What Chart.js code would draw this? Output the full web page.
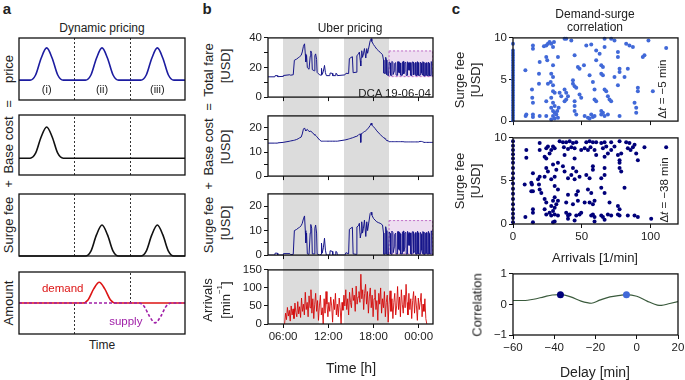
<!DOCTYPE html>
<html>
<head>
<meta charset="utf-8">
<script src="https://cdn.jsdelivr.net/npm/chart.js@4.4.0/dist/chart.umd.min.js"></script>
<style>
  body { margin: 0; width: 685px; height: 380px; position: relative; overflow: hidden; background: #fff;
         font-family: "Liberation Sans", Arial, Helvetica, sans-serif; color: #222; }
  .plot { position: absolute; z-index: 1; }
  .band { position: absolute; z-index: 0; background: #dcdcdc; }
  .lab { position: absolute; z-index: 2; white-space: nowrap; line-height: 1; transform: translate(-50%, -50%); }
  .rot { writing-mode: vertical-rl; transform: translate(-50%, -50%) rotate(180deg); }
  .letter { font-weight: bold; font-size: 15px; }
</style>
</head>
<body>
<script>
// ---------- panel a: schematic ----------
const bumpOffsets = [-0.3, -0.2, -0.1, 0, 0.1, 0.2, 0.3];
const bumpShape = [0, 0.16, 0.68, 1, 0.68, 0.16, 0];
const priceCenters = [0.5, 1.5, 2.5];
const baseCostCenters = [0.5];
const surgeCenters = [1.5, 2.5];
const demandCenters = [1.45];
const supplyCenters = [2.46];

// ---------- panel b: Uber pricing (DCA 19-06-04) ----------
const fareHours = [4.00, 4.90, 4.95, 5.25, 5.30, 6.00, 6.05, 6.90, 7.00, 7.35, 7.50, 7.80, 8.00, 8.20, 8.40, 8.55, 8.70, 8.85, 8.95, 9.02,
  9.12, 9.22, 9.45, 9.60, 9.68, 9.80, 9.88, 10.15, 10.22, 10.32, 10.45, 10.52, 10.85, 11.05, 11.10, 11.20, 11.35, 11.50, 11.62, 11.75,
  12.20, 12.25, 12.55, 12.60, 12.95, 13.00, 13.15, 13.20, 14.20, 14.35, 14.70, 14.80, 15.00, 15.20, 15.30, 15.70, 15.80, 16.00, 16.13, 16.25,
  16.31, 16.36, 16.44, 16.55, 16.67, 16.80, 16.98, 17.11, 17.22, 17.33, 17.56, 17.70, 17.78, 18.00, 18.20, 18.44, 18.70, 18.89, 19.20, 19.33,
  19.38, 19.55, 19.62, 19.72, 19.78, 20.00, 20.08, 20.22, 20.27, 20.40, 20.44, 20.58, 20.62, 20.78, 20.82, 20.95, 21.00, 21.15, 21.20, 21.30,
  21.35, 21.42, 21.46, 21.58, 21.62, 21.80, 21.84, 21.98, 22.02, 22.12, 22.16, 22.30, 22.35, 22.48, 22.52, 22.65, 22.70, 22.74, 22.78, 22.92,
  22.96, 23.10, 23.14, 23.28, 23.32, 23.45, 23.49, 23.60, 23.64, 23.80, 23.84, 23.96, 24.00, 24.18, 24.22, 24.36, 24.40, 24.50, 24.54, 24.66,
  24.70, 24.88, 24.92, 25.05, 25.09, 25.25, 25.29, 25.40, 25.44, 25.62, 25.66, 25.74, 25.78, 25.90];
const totalFare = [13.7, 13.7, 14.5, 14.5, 13.8, 14.0, 14.6, 15.1, 14.8, 15.1, 24.9, 25.7, 26.5, 27.3, 28.2, 30.5, 34.3, 36.0, 29.2, 23.8,
  28.2, 19.9, 18.8, 27.6, 31.2, 29.4, 18.5, 17.8, 28.0, 29.2, 25.5, 16.7, 15.0, 14.8, 19.4, 15.3, 17.5, 21.4, 16.5, 14.5,
  14.5, 16.3, 16.0, 14.5, 14.5, 16.0, 15.7, 14.5, 15.0, 16.1, 15.9, 26.0, 26.7, 27.3, 16.5, 16.8, 28.1, 29.0, 30.4, 24.5,
  21.0, 26.6, 31.3, 26.9, 29.2, 32.8, 26.4, 32.8, 29.6, 32.3, 38.0, 39.5, 37.6, 35.5, 34.1, 32.4, 31.1, 30.3, 28.6, 25.0,
  16.2, 16.0, 26.9, 25.0, 15.1, 14.5, 23.8, 23.1, 14.8, 14.6, 24.1, 23.5, 15.3, 17.8, 22.8, 23.3, 14.9, 14.7, 23.9, 23.9,
  16.8, 16.3, 23.6, 23.0, 14.8, 14.8, 23.7, 24.1, 15.7, 17.2, 23.2, 23.5, 14.6, 14.7, 23.9, 23.0, 18.2, 18.2, 23.4, 23.2,
  14.7, 14.6, 23.7, 23.7, 15.0, 15.7, 22.8, 23.4, 14.6, 14.7, 24.0, 23.2, 14.7, 14.8, 23.7, 22.9, 16.4, 14.9, 23.9, 23.5,
  14.3, 14.5, 23.0, 23.2, 14.6, 14.4, 23.7, 22.8, 14.5, 14.5, 23.9, 23.5, 14.3, 14.3];
const baseCost = [13.7, 13.7, 13.7, 13.7, 13.8, 14.0, 14.0, 14.5, 14.6, 14.8, 14.9, 15.2, 15.5, 15.9, 16.2, 17.5, 19.5, 20.0, 19.2, 18.8,
  19.2, 19.4, 18.5, 18.6, 18.7, 18.4, 18.0, 17.3, 17.0, 16.9, 16.5, 16.2, 15.0, 14.5, 14.5, 14.5, 14.5, 14.5, 14.5, 14.5,
  14.5, 14.5, 14.5, 14.5, 14.5, 14.5, 14.5, 14.5, 15.0, 15.1, 15.4, 15.5, 15.7, 15.9, 16.0, 16.5, 16.6, 17.0, 17.4, 17.5,
  14.0, 17.6, 17.7, 17.9, 18.2, 18.5, 18.8, 19.2, 19.6, 20.0, 21.0, 22.0, 21.2, 20.5, 19.8, 18.8, 17.9, 17.3, 16.3, 16.0,
  15.9, 15.5, 15.3, 15.0, 14.8, 14.5, 14.3, 14.3, 14.3, 14.3, 14.3, 14.3, 14.3, 14.3, 14.3, 14.3, 14.3, 14.3, 14.3, 14.3,
  14.3, 14.3, 14.3, 14.3, 14.3, 14.3, 14.3, 14.3, 14.2, 14.2, 14.2, 14.2, 14.2, 14.2, 14.2, 14.2, 14.2, 14.2, 14.2, 14.2,
  14.2, 14.2, 14.2, 14.2, 14.2, 14.2, 14.2, 14.2, 14.2, 14.2, 14.2, 14.2, 14.2, 14.4, 14.4, 14.4, 14.4, 14.3, 14.3, 14.1,
  14.0, 14.0, 14.0, 14.0, 14.0, 14.0, 14.0, 14.0, 14.0, 14.0, 14.0, 14.0, 14.0, 14.0];
const surgeFee = [0, 0, 0.8, 0.8, 0, 0, 0.6, 0.6, 0.2, 0.3, 10.0, 10.5, 11.0, 11.4, 12.0, 13.0, 14.8, 16.0, 10.0, 5.0,
  9.0, 0.5, 0.3, 9.0, 12.5, 11.0, 0.5, 0.5, 11.0, 12.3, 9.0, 0.5, 0, 0.3, 4.9, 0.8, 3.0, 6.9, 2.0, 0,
  0, 1.8, 1.5, 0, 0, 1.5, 1.2, 0, 0, 1.0, 0.5, 10.5, 11.0, 11.4, 0.5, 0.3, 11.5, 12.0, 13.0, 7.0,
  7.0, 9.0, 13.6, 9.0, 11.0, 14.3, 7.6, 13.6, 10.0, 12.3, 17.0, 17.5, 16.4, 15.0, 14.3, 13.6, 13.2, 13.0, 12.3, 9.0,
  0.3, 0.5, 11.6, 10.0, 0.3, 0, 9.5, 8.8, 0.5, 0.3, 9.8, 9.2, 1.0, 3.5, 8.5, 9.0, 0.6, 0.4, 9.6, 9.6,
  2.5, 2.0, 9.3, 8.7, 0.5, 0.5, 9.4, 9.8, 1.5, 3.0, 9.0, 9.3, 0.4, 0.5, 9.7, 8.8, 4.0, 4.0, 9.2, 9.0,
  0.5, 0.4, 9.5, 9.5, 0.8, 1.5, 8.6, 9.2, 0.4, 0.5, 9.8, 9.0, 0.5, 0.4, 9.3, 8.5, 2.0, 0.6, 9.6, 9.4,
  0.3, 0.5, 9.0, 9.2, 0.6, 0.4, 9.7, 8.8, 0.5, 0.5, 9.9, 9.5, 0.3, 0.3];
// arrivals per minute, sampled every 7.5 min from 06:12
const arrivalStart = 6.2;
const arrivalStep = 0.125;
const arrivals = [
  0, 30, 12, 46, 22, 38, 8, 50,   25, 42, 15, 58, 32, 20, 62, 28,
  48, 18, 72, 35, 55, 25, 88, 40,  60, 20, 78, 45, 95, 30, 70, 15,
  55, 85, 35, 65, 10, 50, 80, 25,  45, 0, 70, 30, 90, 55, 20, 60,
  35, 75, 50, 5, 68, 40, 85, 25,   55, 20, 72, 45, 0, 60, 38, 80,
  50, 95, 40, 70, 25, 88, 60, 45,  100, 65, 80, 35, 105, 55, 75, 90,
  60, 138, 70, 95, 40, 85, 110, 55, 90, 30, 75, 100, 45, 80, 20, 70,
  95, 40, 65, 10, 85, 55, 100, 30, 70, 45, 90, 20, 60, 80, 5, 55,
  92, 35, 70, 15, 60, 85, 25, 50,  104, 40, 75, 20, 95, 55, 30, 80,
  45, 110, 60, 25, 85, 40, 70, 15, 65, 90, 30, 78, 50, 10, 72, 40,
  60, 85, 20, 55, 35, 70, 15, 0];
const peakHours = [[6.0, 10.8], [14.1, 20.1]];
const timeTicks = [6, 12, 18, 24];
const timeLabels = ['06:00', '12:00', '18:00', '00:00'];
const totalTicks = [0, 10, 20, 30, 40], totalLabels = [0, 20, 40];
const feeTicks = [0, 5, 10, 15, 20], feeLabels = [0, 10, 20];
const arrivalTicks = [0, 50, 100, 150];

// ---------- panel c: demand-surge correlation ----------
const lag5Arrivals = [0, 0, 0, 0, 0, 0, 0, 0, 0, 0, 0, 0, 0, 0, 0, 0, 0, 0, 0, 0, 0, 0, 0, 0, 0, 0, 0, 0, 0, 0,
  9.0, 9.7, 9.2, 14.5, 14.5, 13.8, 14.0, 14.5, 14.5, 14.5, 19.4, 18.9, 18.9, 19.4, 24.2, 24.2, 22.5, 24.2, 25.4, 26.6,
  27.8, 29.1, 29.8, 24.2, 24.9, 29.1, 27.8, 29.1, 27.4, 29.1, 25.4, 29.1, 30.3, 27.8, 29.1, 30.3, 27.8, 29.1, 30.3, 31.5,
  29.1, 30.3, 27.8, 32.7, 32.2, 33.2, 33.9, 35.1, 37.5, 38.7, 40.0, 38.7, 37.5, 32.7, 38.7, 42.4, 44.8, 47.2, 48.4, 43.6,
  43.6, 44.8, 46.0, 48.4, 49.6, 44.8, 44.8, 44.8, 46.0, 52.1, 54.5, 55.7, 58.1, 59.3, 56.9, 53.3, 56.9, 51.6, 55.7, 58.1,
  59.3, 60.5, 60.5, 63.0, 64.2, 65.4, 64.2, 65.4, 66.6, 59.3, 60.5, 64.2, 65.4, 66.6, 67.8, 69.0, 70.2, 71.4, 64.2, 66.6,
  69.0, 71.4, 73.8, 76.3, 76.3, 77.5, 77.5, 73.8, 76.3, 77.5, 82.3, 84.7, 87.2, 83.5, 81.1, 88.4, 89.6, 89.6, 90.8, 90.8,
  95.6, 94.4, 101.7, 111.4, 37.5, 66.6, 98.5];
const lag5Surge = [0.1, 0.4, 0.7, 1.0, 1.3, 1.6, 1.9, 2.2, 2.5, 2.8, 3.1, 3.4, 3.7, 4.0, 4.3, 4.6, 4.9, 5.2, 5.5, 5.8,
  6.1, 6.4, 6.7, 7.0, 7.3, 7.6, 7.9, 8.2, 8.5, 9.3,
  6.1, 0.8, 0.6, 9.1, 8.7, 3.8, 2.8, 2.2, 0.8, 0.5, 7.1, 5.7, 4.5, 0.6, 2.4, 0.6, 9.0, 9.1, 9.3, 9.5,
  9.3, 8.9, 9.5, 7.7, 7.3, 6.7, 5.7, 5.3, 4.7, 4.3, 4.5, 3.6, 3.4, 2.8, 2.2, 1.8, 1.6, 1.2, 1.0, 0.8,
  0.6, 0.3, 0.2, 0.4, 1.2, 1.6, 3.4, 3.0, 3.8, 3.4, 3.0, 2.6, 2.4, 7.7, 9.9, 9.7, 7.9, 6.5, 6.3, 4.9,
  4.5, 4.2, 4.0, 3.2, 2.8, 2.4, 1.8, 1.2, 0.8, 0.6, 0.4, 0.3, 0.5, 0.6, 0.8, 9.1, 9.2, 6.7, 5.5, 4.7,
  3.8, 7.3, 8.5, 8.1, 6.7, 6.5, 5.7, 5.5, 8.9, 2.6, 2.4, 1.2, 1.0, 3.8, 3.6, 3.0, 2.6, 2.4, 0.8, 0.6,
  0.8, 9.9, 9.7, 8.3, 7.7, 6.3, 5.9, 5.3, 4.3, 0.6, 9.3, 9.1, 8.9, 6.3, 5.3, 2.2, 1.6, 1.0, 4.0, 3.6,
  7.9, 7.7, 3.6, 8.8, 9.9, 9.9, 9.7];
const lag38Arrivals = [0, 0, 0, 0, 0, 0, 0, 0, 0, 0, 0, 0, 0, 0, 0, 0, 0, 0,
  33.9, 36.3, 38.7, 41.2, 43.6, 46.0, 53.3, 55.7, 58.1, 60.5, 64.2, 66.6, 71.4, 77.5, 82.3, 84.7, 88.4, 95.6, 111.4, 19.4,
  19.4, 24.2, 25.4, 27.8, 29.1, 30.3, 26.6, 37.0, 40.0, 42.4, 44.8, 49.6, 52.1, 54.5, 56.4, 59.3, 65.4, 67.8, 71.4, 73.8,
  83.5, 85.5, 87.2, 89.6, 9.7, 9.7, 23.0, 24.2, 37.5, 44.8, 60.5, 66.6, 76.3, 77.5, 90.8, 69.0, 78.7, 24.2, 25.4, 29.1,
  31.5, 32.7, 36.3, 37.5, 43.6, 46.0, 58.1, 58.1, 66.6, 77.5, 77.5, 78.7, 14.5, 19.4, 23.0, 27.8, 30.3, 40.0, 42.4, 44.8,
  48.4, 53.3, 55.7, 64.2, 66.6, 8.5, 13.3, 13.8, 18.2, 18.9, 13.3, 14.5, 19.4, 20.6, 30.3, 32.7, 40.0, 46.0, 47.2, 56.9,
  64.2, 66.6, 81.1, 54.5, 23.0, 24.2, 27.8, 29.1, 30.3, 31.5, 32.7, 38.7, 43.6, 47.2, 52.1, 55.7, 58.1, 59.3, 70.2, 76.3,
  77.5, 30.3, 14.5, 14.5, 23.0, 24.2, 26.6, 27.8, 29.1, 30.3, 32.7, 38.7, 40.0, 41.2, 46.0, 48.4, 49.6, 56.9, 58.1, 59.3,
  64.2, 65.4, 69.0, 71.4, 76.3, 77.5, 83.5, 88.4, 90.8, 100.5, 9.0, 14.5, 29.1, 30.3, 40.0, 44.8, 59.3, 66.6];
const lag38Surge = [0.2, 0.7, 1.2, 1.7, 2.3, 2.9, 3.5, 4.1, 4.7, 5.3, 5.9, 6.5, 7.1, 7.6, 8.1, 8.6, 9.1, 9.6,
  9.6, 9.5, 9.5, 9.6, 9.4, 9.5, 9.5, 9.6, 9.5, 9.5, 9.4, 9.5, 9.5, 9.6, 9.5, 9.4, 9.2, 8.9, 8.9, 9.4,
  8.6, 8.8, 9.0, 8.6, 9.0, 8.8, 8.2, 8.9, 8.7, 8.9, 8.8, 8.6, 8.8, 8.6, 8.9, 8.6, 8.8, 9.0, 8.6, 9.0,
  8.8, 8.6, 8.9, 8.2, 8.6, 7.7, 7.8, 7.6, 8.0, 7.6, 8.0, 7.8, 8.0, 7.4, 7.4, 8.2, 8.2, 6.5, 6.1, 6.9,
  6.3, 7.1, 6.7, 6.1, 6.5, 6.1, 6.7, 6.3, 6.5, 7.1, 6.5, 6.1, 5.9, 5.5, 5.5, 5.2, 5.5, 5.3, 5.7, 5.2,
  5.5, 5.7, 5.3, 5.3, 5.7, 4.6, 4.8, 4.6, 5.2, 4.6, 3.8, 3.8, 4.0, 3.6, 4.4, 4.0, 3.4, 3.4, 3.8, 3.6,
  4.2, 3.6, 4.2, 4.0, 2.9, 2.5, 2.1, 2.7, 3.1, 2.3, 2.7, 2.5, 2.3, 2.7, 2.5, 2.5, 2.3, 2.7, 2.5, 2.1,
  1.7, 1.9, 1.7, 1.3, 1.7, 1.1, 1.3, 1.0, 1.5, 1.1, 1.0, 1.3, 1.0, 1.1, 1.0, 1.1, 1.3, 1.0, 1.1, 0.8,
  1.0, 0.8, 1.1, 1.0, 1.1, 1.0, 1.0, 1.0, 0.8, 0.6, 0.8, 0.2, 0.2, 0.3, 0.6, 0.4, 0.3, 0.5];
const delays = [-60, -55, -50, -45, -41, -37, -32, -27, -22, -18, -13, -8, -5, 0, 5, 10, 12, 16, 20];
const correlation = [0.13, 0.13, 0.17, 0.25, 0.31, 0.32, 0.25, 0.11, 0.04, 0.14, 0.25, 0.30, 0.32, 0.27, 0.11, -0.02, -0.03, 0.03, 0.09];
const markedDelays = [-37, -5];
const markedCorr = [0.32, 0.32];
const scatterArrivalTicks = [0, 50, 100];
const scatterFeeTicks = [0, 5, 10];
const delayTicks = [-60, -40, -20, 0, 20];
const corrTicks = [-1, 0, 1];

const FONT = '"Liberation Sans", Arial, Helvetica, sans-serif';
const NAVY = '#15158a';
const LIGHTBLUE = '#4169d8';
const DARKBLUE = '#00007a';
Chart.defaults.font.family = FONT;
Chart.defaults.color = '#222';

// box outline round the plot area
const frame = {
    id: 'frame',
    afterDraw(chart) {
        const a = chart.chartArea, c = chart.ctx;
        c.save();
        c.strokeStyle = '#111';
        c.lineWidth = 1.3;
        c.strokeRect(a.left, a.top, a.right - a.left, a.bottom - a.top);
        c.restore();
    }
};

// dotted separators of the three regimes (x, yFrom, yTo)
function dividers(lines) {
    return {
        id: 'dividers',
        beforeDatasetsDraw(chart) {
            const x = chart.scales.x, y = chart.scales.y, c = chart.ctx;
            c.save();
            c.setLineDash([2, 2]);
            c.strokeStyle = '#333';
            c.lineWidth = 1;
            lines.forEach(l => {
                const px = Math.round(x.getPixelForValue(l[0])) + 0.5;
                c.beginPath();
                c.moveTo(px, y.getPixelForValue(l[1]));
                c.lineTo(px, y.getPixelForValue(l[2]));
                c.stroke();
            });
            c.restore();
        }
    };
}

// text placed in data coordinates
function notes(items) {
    return {
        id: 'notes',
        afterDatasetsDraw(chart) {
            const x = chart.scales.x, y = chart.scales.y, c = chart.ctx;
            c.save();
            c.textAlign = 'center';
            c.textBaseline = 'middle';
            items.forEach(n => {
                c.font = n.size + 'px ' + FONT;
                c.fillStyle = n.color;
                c.fillText(n.text, x.getPixelForValue(n.x), y.getPixelForValue(n.y));
            });
            c.restore();
        }
    };
}

// shaded dashed window (x from, to, y from, to)
function windowBox(x0, x1, y0, y1) {
    return {
        id: 'windowBox',
        beforeDatasetsDraw(chart) {
            const x = chart.scales.x, y = chart.scales.y, c = chart.ctx;
            const l = x.getPixelForValue(x0), r = x.getPixelForValue(x1);
            const t = y.getPixelForValue(y1), b = y.getPixelForValue(y0);
            c.save();
            c.fillStyle = 'rgba(205, 160, 215, 0.35)';
            c.fillRect(l, t, r - l, b - t);
            c.setLineDash([2, 2]);
            c.strokeStyle = '#c070c8';
            c.lineWidth = 1;
            c.strokeRect(l + 0.5, t + 0.5, r - l - 1, b - t - 1);
            c.restore();
        }
    };
}

// box = [left, top, right, bottom] of the plot area, m = margins for axes
function makeChart(box, m, config) {
    const w = box[2] - box[0] + m[0] + m[2];
    const h = box[3] - box[1] + m[1] + m[3];
    const wrap = document.createElement('div');
    wrap.className = 'plot';
    wrap.style.left = (box[0] - m[0]) + 'px';
    wrap.style.top = (box[1] - m[1]) + 'px';
    const cv = document.createElement('canvas');
    cv.width = w; cv.height = h;
    cv.style.width = w + 'px'; cv.style.height = h + 'px';
    wrap.appendChild(cv);
    document.body.appendChild(wrap);
    const chart = new Chart(cv, config);
    // nudge so that the plot area lands on the box
    const a = chart.chartArea;
    wrap.style.left = (box[0] - a.left) + 'px';
    wrap.style.top = (box[1] - a.top) + 'px';
    chart.offset = [box[0] - a.left, box[1] - a.top];
    return chart;
}

function minusSign(v) {
    return v < 0 ? '\u2212' + (-v) : String(v);
}

function axis(min, max, ticks, labelFn, size, horizontal) {
    return {
        type: 'linear', min: min, max: max,
        afterBuildTicks: s => { s.ticks = ticks.map(v => ({ value: v })); },
        afterFit: s => { if (horizontal) s.height = size; else s.width = size; },
        grid: { drawOnChartArea: false, drawTicks: true, tickLength: 4, color: '#111', lineWidth: 1 },
        border: { display: false },
        ticks: { callback: labelFn, autoSkip: false, maxRotation: 0, padding: 2,
                 font: { size: 11.5 }, color: '#222' }
    };
}

function baseOptions(scales, pad) {
    return {
        responsive: false,
        animation: false,
        layout: { padding: pad },
        plugins: { legend: { display: false }, tooltip: { enabled: false } },
        scales: scales
    };
}

// ---------- panel a ----------
function bumpCurve(centers, base, height) {
    const pts = [{ x: 0, y: base }];
    centers.forEach(c => bumpOffsets.forEach((o, i) => pts.push({ x: c + o, y: base + height * bumpShape[i] })));
    pts.push({ x: 3, y: base });
    return pts;
}

function schemeLine(points, color, dash, order) {
    return { data: points, borderColor: color, borderWidth: 1.6, borderDash: dash || [],
             pointRadius: 0, cubicInterpolationMode: 'monotone', order: order || 0, clip: 3 };
}

function schemeChart(box, ymin, ymax, datasets, lines, labels) {
    const scales = {
        x: { type: 'linear', min: 0, max: 3, display: false },
        y: { type: 'linear', min: ymin, max: ymax, display: false }
    };
    return makeChart(box, [1, 1, 1, 1], {
        type: 'line',
        data: { datasets: datasets },
        options: baseOptions(scales, 1),
        plugins: [dividers(lines), notes(labels), frame]
    });
}

schemeChart([19, 38, 185, 100], 0, 1,
    [schemeLine(bumpCurve(priceCenters, 0.32, 0.52), '#1c1ca0')],
    [[1, 0, 1], [2, 0, 1]],
    [{ text: '(i)', x: 0.5, y: 0.16, size: 11, color: '#222' },
     { text: '(ii)', x: 1.5, y: 0.16, size: 11, color: '#222' },
     { text: '(iii)', x: 2.5, y: 0.16, size: 11, color: '#222' }]);

schemeChart([19, 115, 185, 175], 0, 1,
    [schemeLine(bumpCurve(baseCostCenters, 0.28, 0.52), '#111')],
    [[1, 0, 1], [2, 0, 1]], []);

schemeChart([19, 194, 185, 256], 0, 1,
    [schemeLine(bumpCurve(surgeCenters, 0, 0.5), '#111')],
    [[1, 0, 1], [2, 0, 1]], []);

schemeChart([19, 272, 185, 334], -1, 1,
    [schemeLine(bumpCurve(supplyCenters, 0, -0.64), '#a020a8', [3, 2], 0),
     schemeLine(bumpCurve(demandCenters, 0, 0.67), '#dd1515', [], 1)],
    [[1, -1, 0], [2, 0, 1]],
    [{ text: 'demand', x: 0.79, y: 0.46, size: 11.5, color: '#dd1515' },
     { text: 'supply', x: 1.93, y: -0.61, size: 11.5, color: '#a020a8' }]);

// ---------- panel b ----------
const FARE_MIN = 4.0, FARE_MAX = 25.9;
function timeAxis(withLabels) {
    return axis(FARE_MIN, FARE_MAX, timeTicks,
        (v, i) => withLabels ? timeLabels[i] : '', withLabels ? 20 : 8, true);
}
function valueAxis(min, max, ticks, labels) {
    return axis(min, max, ticks, v => labels.includes(v) ? String(v) : '', 30, false);
}
function series(values, color, hours) {
    return { data: values.map((v, i) => ({ x: hours[i], y: v })), borderColor: color,
             borderWidth: 1, pointRadius: 0, tension: 0 };
}

const chartTotal = makeChart([268, 38, 433, 99], [30, 8, 4, 8], {
    type: 'line',
    data: { datasets: [series(totalFare, NAVY, fareHours)] },
    options: baseOptions({ x: timeAxis(false), y: valueAxis(0, 40, totalTicks, totalLabels) }, { top: 8, right: 4 }),
    plugins: [windowBox(20.0, FARE_MAX, 13.5, 31.5), frame]
});

makeChart([268, 116, 433, 178], [30, 8, 4, 8], {
    type: 'line',
    data: { datasets: [series(baseCost, NAVY, fareHours)] },
    options: baseOptions({ x: timeAxis(false), y: valueAxis(0, 25, feeTicks, feeLabels) }, { top: 8, right: 4 }),
    plugins: [frame]
});

makeChart([268, 194, 433, 257], [30, 8, 4, 8], {
    type: 'line',
    data: { datasets: [series(surgeFee, NAVY, fareHours)] },
    options: baseOptions({ x: timeAxis(false), y: valueAxis(0, 25, feeTicks, feeLabels) }, { top: 8, right: 4 }),
    plugins: [windowBox(20.0, FARE_MAX, 0.3, 14.3), frame]
});

const arrivalHours = arrivals.map((v, i) => arrivalStart + i * arrivalStep);
const chartArrivals = makeChart([268, 270, 433, 325], [30, 8, 4, 20], {
    type: 'line',
    data: { datasets: [series(arrivals, 'rgba(212, 0, 0, 0.85)', arrivalHours)] },
    options: baseOptions({ x: timeAxis(true), y: valueAxis(0, 150, arrivalTicks, arrivalTicks) }, { top: 8, right: 4 }),
    plugins: [frame]
});

// grey peak-hour bands behind the four panels
peakHours.forEach(p => {
    const xs = chartTotal.scales.x;
    const l = chartTotal.offset[0] + xs.getPixelForValue(p[0]);
    const r = chartTotal.offset[0] + xs.getPixelForValue(p[1]);
    const t = chartTotal.offset[1] + chartTotal.chartArea.top;
    const b = chartArrivals.offset[1] + chartArrivals.chartArea.bottom;
    const d = document.createElement('div');
    d.className = 'band';
    d.style.left = l + 'px'; d.style.width = (r - l) + 'px';
    d.style.top = t + 'px'; d.style.height = (b - t) + 'px';
    document.body.appendChild(d);
});

// ---------- panel c ----------
function dots(xs, ys, color, r) {
    return { data: xs.map((v, i) => ({ x: v, y: ys[i] })), backgroundColor: color, borderWidth: 0,
             pointRadius: r, clip: 4 };
}

makeChart([513, 38, 678, 123], [30, 8, 4, 8], {
    type: 'scatter',
    data: { datasets: [dots(lag5Arrivals, lag5Surge, LIGHTBLUE, 2)] },
    options: baseOptions({
        x: axis(0, 120, scatterArrivalTicks, () => '', 8, true),
        y: axis(0, 10, scatterFeeTicks, v => String(v), 30, false)
    }, { top: 8, right: 4 }),
    plugins: [frame]
});

makeChart([513, 138, 678, 225], [30, 8, 4, 20], {
    type: 'scatter',
    data: { datasets: [dots(lag38Arrivals, lag38Surge, DARKBLUE, 2)] },
    options: baseOptions({
        x: axis(0, 120, scatterArrivalTicks, v => String(v), 20, true),
        y: axis(0, 10, scatterFeeTicks, v => String(v), 30, false)
    }, { top: 8, right: 4 }),
    plugins: [frame]
});

makeChart([513, 274, 678, 336], [30, 8, 10, 20], {
    type: 'scatter',
    data: { datasets: [
        { data: markedDelays.map((v, i) => ({ x: v, y: markedCorr[i] })),
          backgroundColor: [DARKBLUE, LIGHTBLUE], borderWidth: 0, pointRadius: 3.5 },
        { data: delays.map((v, i) => ({ x: v, y: correlation[i] })), showLine: true,
          borderColor: '#3a5a3c', borderWidth: 1.2, pointRadius: 0, cubicInterpolationMode: 'monotone' }
    ] },
    options: baseOptions({
        x: axis(-60, 20, delayTicks, minusSign, 20, true),
        y: axis(-1, 1, corrTicks, minusSign, 30, false)
    }, { top: 8, right: 10 }),
    plugins: [frame]
});

// ---------- text ----------
function label(html, x, y, size, extra) {
    const d = document.createElement('div');
    d.className = 'lab' + (extra ? ' ' + extra : '');
    d.style.left = x + 'px';
    d.style.top = y + 'px';
    if (size) d.style.fontSize = size + 'px';
    d.innerHTML = html;
    document.body.appendChild(d);
    return d;
}

label('a', 7, 8, 15, 'letter');
label('b', 207, 8, 15, 'letter');
label('c', 456, 8, 15, 'letter');

label('Dynamic pricing', 102, 28, 12);
label('Uber pricing', 350, 28, 12);
label('Demand-surge', 595, 14, 12);
label('correlation', 595, 27, 12);

const rotSize = 13;
label('price', 8, 69, rotSize, 'rot');
label('=', 8, 104, rotSize, 'rot');
label('Base cost', 8, 145, rotSize, 'rot');
label('+', 8, 184, rotSize, 'rot');
label('Surge fee', 8, 225, rotSize, 'rot');
label('Amount', 8, 303, rotSize, 'rot');
label('Time', 102, 345, 12);

label('Total fare', 208, 70, rotSize, 'rot');
label('=', 208, 107, rotSize, 'rot');
label('Base cost', 208, 147, rotSize, 'rot');
label('+', 208, 186, rotSize, 'rot');
label('Surge fee', 208, 225, rotSize, 'rot');
label('[USD]', 225, 66, rotSize, 'rot');
label('[USD]', 225, 147, rotSize, 'rot');
label('[USD]', 225, 223, rotSize, 'rot');
label('Arrivals', 207, 300, rotSize, 'rot');
label('[min<sup style="font-size:8px">\u22121</sup>]', 224, 300, rotSize, 'rot');
label('Time [h]', 351, 368, 14);
const dca = label('DCA 19-06-04', 0, 94, 11.5);
dca.style.left = 'auto';
dca.style.right = (685 - 431) + 'px';
dca.style.transform = 'translate(0, -50%)';

label('Surge fee', 459, 80, rotSize, 'rot');
label('[USD]', 475, 80, rotSize, 'rot');
label('Surge fee', 459, 181, rotSize, 'rot');
label('[USD]', 475, 181, rotSize, 'rot');
label('Correlation', 477, 305, rotSize, 'rot');
label('\u0394<i>t</i> = \u22125 min', 663, 89, 11.5, 'rot');
label('\u0394<i>t</i> = \u221238 min', 665, 190, 11.5, 'rot');
label('Arrivals [1/min]', 595, 257, 13);
label('Delay [min]', 595, 372, 14);
</script>
</body>
</html>
